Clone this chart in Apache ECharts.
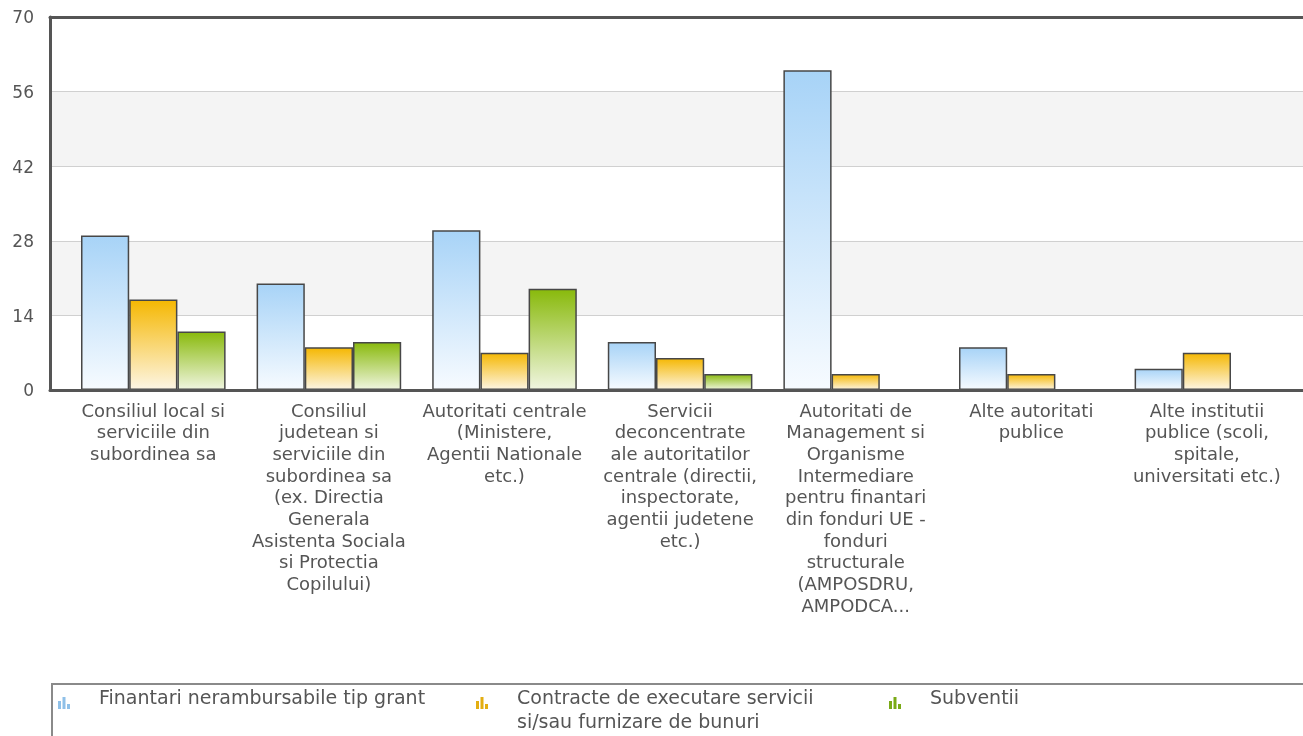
<!DOCTYPE html>
<html><head><meta charset="utf-8">
<script src="https://cdn.jsdelivr.net/npm/echarts@6/dist/echarts.min.js"></script>
<style>html,body{margin:0;padding:0;background:#fff}#c{width:1303px;height:736px}</style>
</head><body><div id="c"></div>
<script>
const categories = [
  "Consiliul local si\nserviciile din\nsubordinea sa",
  "Consiliul\njudetean si\nserviciile din\nsubordinea sa\n(ex. Directia\nGenerala\nAsistenta Sociala\nsi Protectia\nCopilului)",
  "Autoritati centrale\n(Ministere,\nAgentii Nationale\netc.)",
  "Servicii\ndeconcentrate\nale autoritatilor\ncentrale (directii,\ninspectorate,\nagentii judetene\netc.)",
  "Autoritati de\nManagement si\nOrganisme\nIntermediare\npentru finantari\ndin fonduri UE -\nfonduri\nstructurale\n(AMPOSDRU,\nAMPODCA...",
  "Alte autoritati\npublice",
  "Alte institutii\npublice (scoli,\nspitale,\nuniversitati etc.)"
];
const seriesNames = [
  "Finantari nerambursabile tip grant",
  "Contracte de executare servicii si/sau furnizare de bunuri",
  "Subventii"
];
const grantValues = [29, 20, 30, 9, 60, 8, 4];
const contractValues = [17, 8, 7, 6, 3, 3, 7];
const subventionValues = [11, 9, 19, 3, 0, 0, 0];
const yMin = 0, yMax = 70, yInterval = 14;

const FONT = "DejaVu Sans";
function grad(top, bottom) {
  return {type: 'linear', x: 0, y: 0, x2: 0, y2: 1,
    colorStops: [{offset: 0, color: top}, {offset: 1, color: bottom}]};
}
const fills = [grad('#a7d3f7', '#f7fbff'), grad('#f5b700', '#fdf6e6'), grad('#88b90a', '#f1f6e2')];
const iconColors = ['#8fc0e8', '#e3ae12', '#7aaa16'];
const iconPath = 'path://M0,4h3v8h-3z M4.5,0h3v12h-3z M9,7h3v5h-3z M0,27.95h0.01v0.05h-0.01z';

const chart = echarts.init(document.getElementById('c'), null, {renderer: 'canvas'});
const seriesValues = [grantValues, contractValues, subventionValues];

chart.setOption({
  animation: false,
  backgroundColor: '#ffffff',
  textStyle: {fontFamily: FONT},
  grid: [
    {left: 50, right: -30, top: 17, bottom: 346},
    {left: 65.5, right: 8.3, top: 17, bottom: 346}
  ],
  xAxis: [
    {gridIndex: 0, type: 'value', min: 0, max: 1, position: 'bottom', z: 5,
      axisLine: {show: true, lineStyle: {color: '#555', width: 3}},
      axisTick: {show: false}, axisLabel: {show: false}, splitLine: {show: false}},
    {gridIndex: 0, type: 'value', min: 0, max: 1, position: 'top', z: 5,
      axisLine: {show: true, lineStyle: {color: '#555', width: 3}},
      axisTick: {show: false}, axisLabel: {show: false}, splitLine: {show: false}},
    {gridIndex: 1, type: 'category', data: categories, position: 'bottom',
      axisLine: {show: false}, axisTick: {show: false}, splitLine: {show: false},
      axisLabel: {interval: 0, margin: 11, fontFamily: FONT, fontSize: 18, lineHeight: 21.7, color: '#555', align: 'center'}}
  ],
  yAxis: [
    {gridIndex: 0, type: 'value', min: yMin, max: yMax, interval: yInterval,
      axisLine: {show: true, lineStyle: {color: '#555', width: 3}},
      axisTick: {show: false},
      axisLabel: {margin: 16, fontFamily: FONT, fontSize: 17, color: '#555', verticalAlign: 'top', lineHeight: 4},
      splitLine: {show: true, lineStyle: {color: '#d0d0d0', width: 1.2}},
      splitArea: {show: true, areaStyle: {color: ['#ffffff', '#f4f4f4']}}},
    {gridIndex: 1, type: 'value', min: yMin, max: yMax, interval: yInterval, show: false,
      splitLine: {show: false}}
  ],
  legend: {
    left: 52, top: 684, width: 1240,
    orient: 'horizontal',
    padding: [3, 500, 60, 6],
    borderColor: '#8a8a8a', borderWidth: 2,
    itemWidth: 12, itemHeight: 28, itemGap: 20,
    icon: iconPath,
    formatter: function (name) {
      return name.indexOf(' si/sau') >= 0 ? name.replace(' si/sau', '\nsi/sau') : name + '\n ';
    },
    textStyle: {fontFamily: FONT, fontSize: 19, color: '#555', lineHeight: 24, overflow: 'none'},
    data: [
      {name: seriesNames[0], itemStyle: {color: iconColors[0], borderWidth: 0},
        textStyle: {width: 357, padding: [0, 0, 0, 24]}},
      {name: seriesNames[1], itemStyle: {color: iconColors[1], borderWidth: 0},
        textStyle: {width: 352, padding: [0, 0, 0, 24]}},
      {name: seriesNames[2], itemStyle: {color: iconColors[2], borderWidth: 0},
        textStyle: {width: 150, padding: [0, 0, 0, 24]}}
    ]
  },
  series: seriesValues.map(function (vals, i) {
    return {
      type: 'bar', name: seriesNames[i], data: vals,
      xAxisIndex: 2, yAxisIndex: 1,
      barWidth: 48.2, barGap: '0%',
      itemStyle: {color: fills[i], borderColor: '#474747', borderWidth: 1.5}
    };
  })
});
</script>
</body></html>
